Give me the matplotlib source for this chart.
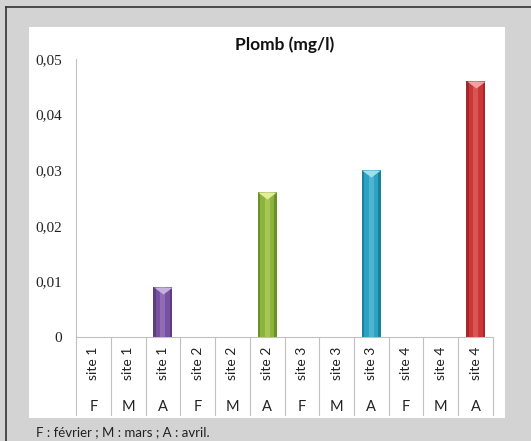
import matplotlib.pyplot as plt
from matplotlib.patches import Rectangle
from matplotlib.lines import Line2D

# données
sites = ["site 1"] * 3 + ["site 2"] * 3 + ["site 3"] * 3 + ["site 4"] * 3
mois = ["F", "M", "A"] * 4
plomb = [0, 0, 0.009, 0, 0, 0.026, 0, 0, 0.030, 0, 0, 0.046]
couleurs = ["#7851a0"] * 3 + ["#8ab43a"] * 3 + ["#2ca2c4"] * 3 + ["#cc3636"] * 3
fonces = ["#5e3c82"] * 3 + ["#6c9028"] * 3 + ["#1d7f9c"] * 3 + ["#a02828"] * 3
clairs = ["#c6b0e0"] * 3 + ["#e4ee9a"] * 3 + ["#9fdff0"] * 3 + ["#f4a0a0"] * 3
yticks = [0, 0.01, 0.02, 0.03, 0.04, 0.05]
ylabels = ["0", "0,01", "0,02", "0,03", "0,04", "0,05"]

W, H = 531, 441
fig = plt.figure(figsize=(W / 100, H / 100), dpi=100)
fig.patch.set_facecolor("#d3d3d3")

# cadre
fig.add_artist(Line2D([6 / W, 1], [1 - 7 / H, 1 - 7 / H], color="#333333", lw=1.2))
fig.add_artist(Line2D([6 / W, 6 / W], [0, 1 - 7 / H], color="#333333", lw=1.2))
fig.add_artist(Rectangle((29 / W, 1 - 418 / H), (505 - 29) / W, (418 - 27) / H,
                         facecolor="white", edgecolor="none", zorder=-10))

ax = fig.add_axes([76 / W, 1 - 337 / H, (493 - 76) / W, (337 - 59) / H])
ax.set_facecolor("none")
x = list(range(len(plomb)))
ax.bar(x, plomb, width=0.54, color=fonces, lw=0, zorder=2)
ax.bar(x, plomb, width=0.4, color=couleurs, lw=0, zorder=3)
ax.bar(x, plomb, width=0.14, color=clairs, alpha=0.3, lw=0, zorder=4)
tri = [(-1, 0), (1, 0), (0, -0.75), (-1, 0)]
for i, v in enumerate(plomb):
    if v > 0:
        ax.plot(i, v, marker=tri, ms=13.5, color=clairs[i], mec="none", zorder=5)

ax.set_xlim(-0.5, len(plomb) - 0.5)
ax.set_ylim(0, 0.05)
ax.set_yticks(yticks)
ax.set_yticklabels(ylabels, family="Liberation Serif", fontsize=11, color="#222222")
ax.tick_params(axis="y", length=0, pad=10)
ax.set_xticks([])
for s in ["top", "right"]:
    ax.spines[s].set_visible(False)
ax.spines["left"].set_color("#c0c0c0")
ax.spines["bottom"].set_color("#c0c0c0")

# tableau des catégories
tr = ax.get_xaxis_transform()
bas = -(415 - 337) / (337 - 59)
for i in range(len(plomb) + 1):
    ax.plot([i - 0.5, i - 0.5], [0, bas], color="#c0c0c0", lw=0.8, transform=tr, clip_on=False)
for i in x:
    ax.text(i, -(363 - 337) / 278, sites[i], rotation=90, ha="center", va="center",
            transform=tr, family="Lato", fontsize=10, color="#222222")
    ax.text(i, -(407 - 337) / 278, mois[i], ha="center", va="center",
            transform=tr, family="Lato", fontsize=10.5, color="#222222")

fig.text(285 / W, 1 - 45 / H, "Plomb (mg/l)", ha="center", va="center",
         family="Lato", fontweight="bold", fontsize=12.5, color="#111111")
fig.text(36 / W, 1 - 432 / H, "F : février ; M : mars ; A : avril.", ha="left", va="center",
         family="Lato", fontsize=9.5, color="#222222")

fig.savefig("out.png", dpi=100, facecolor=fig.get_facecolor())
